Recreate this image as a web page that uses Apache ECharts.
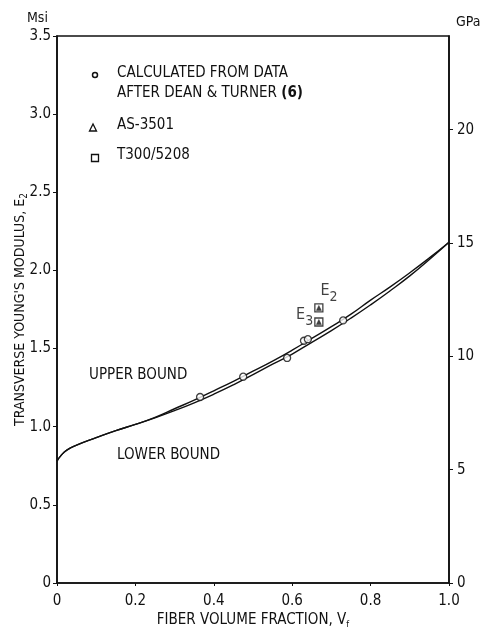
<!DOCTYPE html>
<html>
<head>
<meta charset="utf-8">
<script src="https://cdn.jsdelivr.net/npm/echarts@6/dist/echarts.min.js"></script>
<style>
html,body{margin:0;padding:0;background:#fff;}
#chart{width:483px;height:628px;}
</style>
</head>
<body>
<div id="chart"></div>
<script>
// ---- data ----
var boundX     = [0, 0.01, 0.025, 0.05, 0.1, 0.15, 0.2, 0.25, 0.3, 0.35, 0.4, 0.45, 0.5, 0.55, 0.6, 0.65, 0.7, 0.75, 0.8, 0.85, 0.9, 0.95, 1.0];
var upperBound = [0.78, 0.815, 0.85, 0.882, 0.93, 0.975, 1.015, 1.06, 1.115, 1.17, 1.23, 1.29, 1.355, 1.42, 1.49, 1.565, 1.64, 1.72, 1.81, 1.895, 1.985, 2.08, 2.18];
var lowerBound = [0.78, 0.815, 0.85, 0.882, 0.93, 0.975, 1.015, 1.057, 1.103, 1.153, 1.208, 1.268, 1.333, 1.40, 1.465, 1.54, 1.615, 1.695, 1.78, 1.87, 1.965, 2.07, 2.18];
var deanTurnerX = [0.365, 0.475, 0.587, 0.630, 0.640, 0.730];
var deanTurnerY = [1.19, 1.32, 1.44, 1.55, 1.56, 1.68];
var as3501X = [0.668, 0.668];
var as3501Y = [1.76, 1.67];
var t300X = [0.668, 0.668];
var t300Y = [1.76, 1.67];
var t300Labels = ['E2', 'E3'];
var xTicks = [0, 0.2, 0.4, 0.6, 0.8, 1.0];
var msiTicks = [0, 0.5, 1.0, 1.5, 2.0, 2.5, 3.0, 3.5];
var gpaTicks = [0, 5, 10, 15, 20];
var MSI_TO_GPA = 6.895;

function pairs(xs, ys) { return xs.map(function (x, i) { return [x, ys[i]]; }); }

var FONT = "'DejaVu Sans Condensed', 'Liberation Sans Narrow', 'DejaVu Sans', sans-serif";
var INK = '#111';
var FS = 15;

var chart = echarts.init(document.getElementById('chart'), null, {renderer: 'canvas'});

var t300Data = pairs(t300X, t300Y).map(function (p, i) {
  var isE2 = t300Labels[i] === 'E2';
  return {
    value: p,
    label: {
      show: true,
      position: isE2 ? 'right' : 'left',
      offset: isE2 ? [-8, -17] : [4, -7],
      formatter: isE2 ? '{e|E}{s|2}' : '{e|E}{s|3}',
      rich: {
        e: {fontFamily: FONT, fontSize: 16, color: INK},
        s: {fontFamily: FONT, fontSize: 14, color: INK, padding: [12, 0, 0, 0]}
      }
    }
  };
});

var option = {
  backgroundColor: '#fff',
  animation: false,
  grid: {left: 57, right: 34, top: 36, bottom: 45, show: true, borderColor: INK, borderWidth: 1.6,
         backgroundColor: 'transparent', containLabel: false, outerBoundsMode: 'none'},
  xAxis: {
    type: 'value', min: 0, max: 1, interval: 0.2,
    axisLine: {show: true, lineStyle: {color: INK, width: 1.6}},
    axisTick: {show: true, length: 3, inside: false, lineStyle: {color: INK}},
    splitLine: {show: false},
    axisLabel: {
      color: INK, fontFamily: FONT, fontSize: FS, margin: 11,
      customValues: xTicks,
      formatter: function (v) { return v === 0 ? '0' : v.toFixed(1); }
    },
    name: '{t|FIBER VOLUME FRACTION, V}{s|f}',
    nameLocation: 'middle', nameGap: 28, nameMoveOverlap: false,
    nameTextStyle: {
      rich: {
        t: {fontFamily: FONT, fontSize: FS, color: INK},
        s: {fontFamily: FONT, fontSize: 9, color: INK, padding: [9, 0, 0, 0]}
      }
    }
  },
  yAxis: [{
    type: 'value', min: 0, max: 3.5, interval: 0.5, position: 'left',
    axisLine: {show: true, lineStyle: {color: INK, width: 1.6}},
    axisTick: {show: true, length: 4, lineStyle: {color: INK}},
    splitLine: {show: false},
    axisLabel: {
      color: INK, fontFamily: FONT, fontSize: FS, margin: 6,
      customValues: msiTicks,
      formatter: function (v) { return v === 0 ? '0' : v.toFixed(1); }
    },
    name: '{t|TRANSVERSE YOUNG\'S MODULUS, E}{s|2}',
    nameLocation: 'middle', nameRotate: 90, nameGap: 28, nameMoveOverlap: false,
    nameTextStyle: {
      rich: {
        t: {fontFamily: FONT, fontSize: 14, color: INK},
        s: {fontFamily: FONT, fontSize: 10, color: INK, padding: [8, 0, 0, 0]}
      }
    }
  }, {
    type: 'value', min: 0, max: 3.5 * MSI_TO_GPA, position: 'right',
    axisLine: {show: true, lineStyle: {color: INK, width: 1.6}},
    axisTick: {show: true, length: 4, customValues: gpaTicks, lineStyle: {color: INK}},
    splitLine: {show: false},
    axisLabel: {
      color: INK, fontFamily: FONT, fontSize: FS, margin: 8,
      customValues: gpaTicks,
      formatter: function (v) { return String(v); }
    },
    name: 'GPa', nameLocation: 'end', nameGap: 7, nameMoveOverlap: false,
    nameTextStyle: {fontFamily: FONT, fontSize: 14, color: INK, align: 'left', padding: [0, 0, 0, 7]}
  }],
  graphic: [
    {type: 'text', left: 27, top: 11, style: {text: 'Msi', font: '14px ' + FONT, fill: INK}},
    // legend
    {type: 'circle', shape: {cx: 95, cy: 75, r: 2.5}, style: {fill: '#fff', stroke: INK, lineWidth: 1.5}},
    {type: 'text', left: 117, top: 66, style: {text: 'CALCULATED FROM DATA', font: FS + 'px ' + FONT, fill: INK}},
    {type: 'text', left: 117, top: 86, style: {rich: {a: {fontFamily: FONT, fontSize: FS, fill: INK}, b: {fontFamily: FONT, fontSize: FS, fontWeight: 'bold', fill: INK}}, text: '{a|AFTER DEAN & TURNER }{b|(6)}'}},
    {type: 'polygon', shape: {points: [[93, 124], [89.5, 131], [96.5, 131]]}, style: {fill: '#fff', stroke: INK, lineWidth: 1.3}},
    {type: 'text', left: 117, top: 118, style: {text: 'AS-3501', font: FS + 'px ' + FONT, fill: INK}},
    {type: 'rect', shape: {x: 91.5, y: 154.5, width: 7, height: 7}, style: {fill: '#fff', stroke: INK, lineWidth: 1.3}},
    {type: 'text', left: 117, top: 148, style: {text: 'T300/5208', font: FS + 'px ' + FONT, fill: INK}},
    // curve labels
    {type: 'text', left: 89, top: 368, style: {text: 'UPPER BOUND', font: FS + 'px ' + FONT, fill: INK}},
    {type: 'text', left: 117, top: 448, style: {text: 'LOWER BOUND', font: FS + 'px ' + FONT, fill: INK}}
  ],
  series: [
    {name: 'Upper bound', type: 'line', data: pairs(boundX, upperBound), smooth: true, showSymbol: false, symbol: 'none',
     lineStyle: {color: INK, width: 1.4}, z: 2},
    {name: 'Lower bound', type: 'line', data: pairs(boundX, lowerBound), smooth: true, showSymbol: false, symbol: 'none',
     lineStyle: {color: INK, width: 1.4}, z: 2},
    {name: 'Calculated from data after Dean & Turner (6)', type: 'scatter', data: pairs(deanTurnerX, deanTurnerY),
     symbol: 'circle', symbolSize: 7, itemStyle: {color: '#fff', borderColor: INK, borderWidth: 1.3}, z: 4},
    {name: 'T300/5208', type: 'scatter', data: t300Data,
     symbol: 'rect', symbolSize: 8, itemStyle: {color: '#fff', borderColor: INK, borderWidth: 1.3}, z: 4},
    {name: 'AS-3501', type: 'scatter', data: pairs(as3501X, as3501Y),
     symbol: 'triangle', symbolSize: 5, itemStyle: {color: INK, borderColor: INK, borderWidth: 0.5}, z: 5}
  ]
};
chart.setOption(option);
</script>
</body>
</html>
